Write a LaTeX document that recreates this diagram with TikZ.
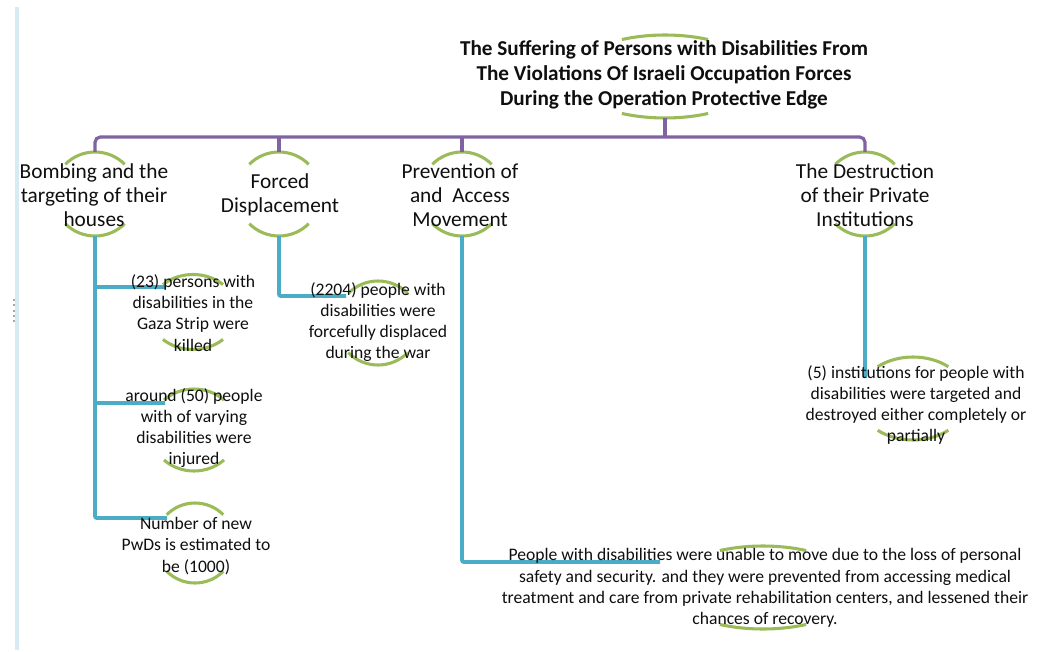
\documentclass[tikz,border=0pt]{standalone}
\usepackage{fontspec}
\setmainfont{Carlito}
\usetikzlibrary{calc}
\definecolor{purp}{HTML}{8064A2}
\definecolor{cyanb}{HTML}{4BACC6}
\definecolor{grn}{HTML}{9BBB59}
\definecolor{edgeblue}{RGB}{214,236,242}
\definecolor{txt}{RGB}{15,15,15}
% #1 name, #2 x, #3 y, #4 rx, #5 ry, #6 half angle (all in px)
\newcommand\ringnode[6]{%
  \node[ringbox, minimum width={1.5*#4pt}, minimum height={1.5*#5pt}] (#1) at (#2,#3) {};
  \draw[ring] ($(#1.center)+({#4*cos(#6)},{#5*sin(#6)})$)
     arc[start angle=#6, end angle={180-#6}, x radius={0.75*#4pt}, y radius={0.75*#5pt}];
  \draw[ring] ($(#1.center)+({-#4*cos(#6)},{-#5*sin(#6)})$)
     arc[start angle={180+#6}, end angle={360-#6}, x radius={0.75*#4pt}, y radius={0.75*#5pt}];
}
\begin{document}
\begin{tikzpicture}[x=0.75pt,y=0.75pt,
  ringbox/.style={draw=none, inner sep=0pt, outer sep=0pt, shape=rectangle},
  ring/.style={draw=grn, line width=2.3pt},
  purpline/.style={draw=purp, line width=2.4pt, rounded corners=4pt},
  blueline/.style={draw=cyanb, line width=2.9pt, rounded corners=1.5pt},
  rootlbl/.style={align=center, text=txt, inner sep=0pt, font=\bfseries\fontsize{15.9}{18.75}\selectfont},
  lvlone/.style={align=center, text=txt, inner sep=0pt, font=\fontsize{16}{18.2}\selectfont},
  leaf/.style={align=center, text=txt, inner sep=0pt, font=\fontsize{13.2}{15.9}\selectfont}]
\useasboundingbox (0,0) rectangle (1044,-652);
\fill[white] (0,0) rectangle (1044,-652);
% left page edge
\draw[draw=edgeblue, line width=2.4pt] (17,-7) -- (17,-650);
\draw[draw=gray!70, line width=1.1pt, dash pattern=on 1.6pt off 2.4pt] (14,-299) -- (14,-323);

% ring nodes
\ringnode{k0}{665}{-76.5}{95}{41.5}{63}
\ringnode{k1}{95}{-194}{42}{42}{45}
\ringnode{k2}{279}{-194}{42}{42}{45}
\ringnode{k3}{462}{-194}{42}{42}{45}
\ringnode{k4}{865}{-194}{42}{42}{45}
\ringnode{m11}{193}{-312}{44}{37.5}{47}
\ringnode{m12}{194}{-430}{44}{41}{47}
\ringnode{m13}{195}{-543}{40}{40}{45}
\ringnode{m2}{378}{-323}{42}{42}{45}
\ringnode{m3}{763}{-587.5}{95}{41.5}{63}
\ringnode{m4}{913}{-398.5}{55}{41.5}{50}

% connectors
\coordinate (bus) at (665,-137);
\draw[purpline] (k0.south) -- (bus);
\draw[purpline] (k1.north) |- (bus);
\draw[purpline] (k4.north) |- (bus);
\draw[purpline] (k2.north) -- (k2.north |- bus);
\draw[purpline] (k3.north) -- (k3.north |- bus);

\coordinate (e11) at (166,-287);
\coordinate (e12) at (165,-403);
\coordinate (e13) at (167,-518);
\coordinate (e2) at (346,-296);
\coordinate (e3) at (660,-562);
\coordinate (e4) at (865,-378);
\draw[blueline] (k1.south) |- (e11);
\draw[blueline] (k1.south) |- (e12);
\draw[blueline] (k1.south) |- (e13);
\draw[blueline] (k2.south) |- (e2);
\draw[blueline] (k3.south) |- (e3);
\draw[blueline] (k4.south) -- (e4);

% labels
\node[rootlbl] (t0) at (664,-75) {The Suffering of Persons with Disabilities From\\The Violations Of Israeli Occupation Forces\\During the Operation Protective Edge};
\node[lvlone] (t1) at (94,-195) {Bombing and the\\targeting of their\\houses};
\node[lvlone] (t2) at (280,-195) {Forced\\Displacement};
\node[lvlone] (t3) at (460,-195) {Prevention of\\and~ Access\\Movement};
\node[lvlone] (t4) at (865,-195) {The Destruction\\of their Private\\Institutions};
\node[leaf] (c11) at (193,-313) {(23) persons with\\disabilities in the\\Gaza Strip were\\killed};
\node[leaf] (c12) at (194,-428) {around (50) people\\with of varying\\disabilities were\\injured};
\node[leaf] (c13) at (196,-546) {Number of new\\PwDs is estimated to\\be (1000)};
\node[leaf] (c2) at (378,-322) {(2204) people with\\disabilities were\\forcefully displaced\\during the war};
\node[leaf] (c3) at (765,-588) {People with disabilities were unable to move due to the loss of personal\\safety and security. and they were prevented from accessing medical\\treatment and care from private rehabilitation centers, and lessened their\\chances of recovery.};
\node[leaf] (c4) at (916,-405) {(5) institutions for people with\\disabilities were targeted and\\destroyed either completely or\\partially};
\end{tikzpicture}
\end{document}
